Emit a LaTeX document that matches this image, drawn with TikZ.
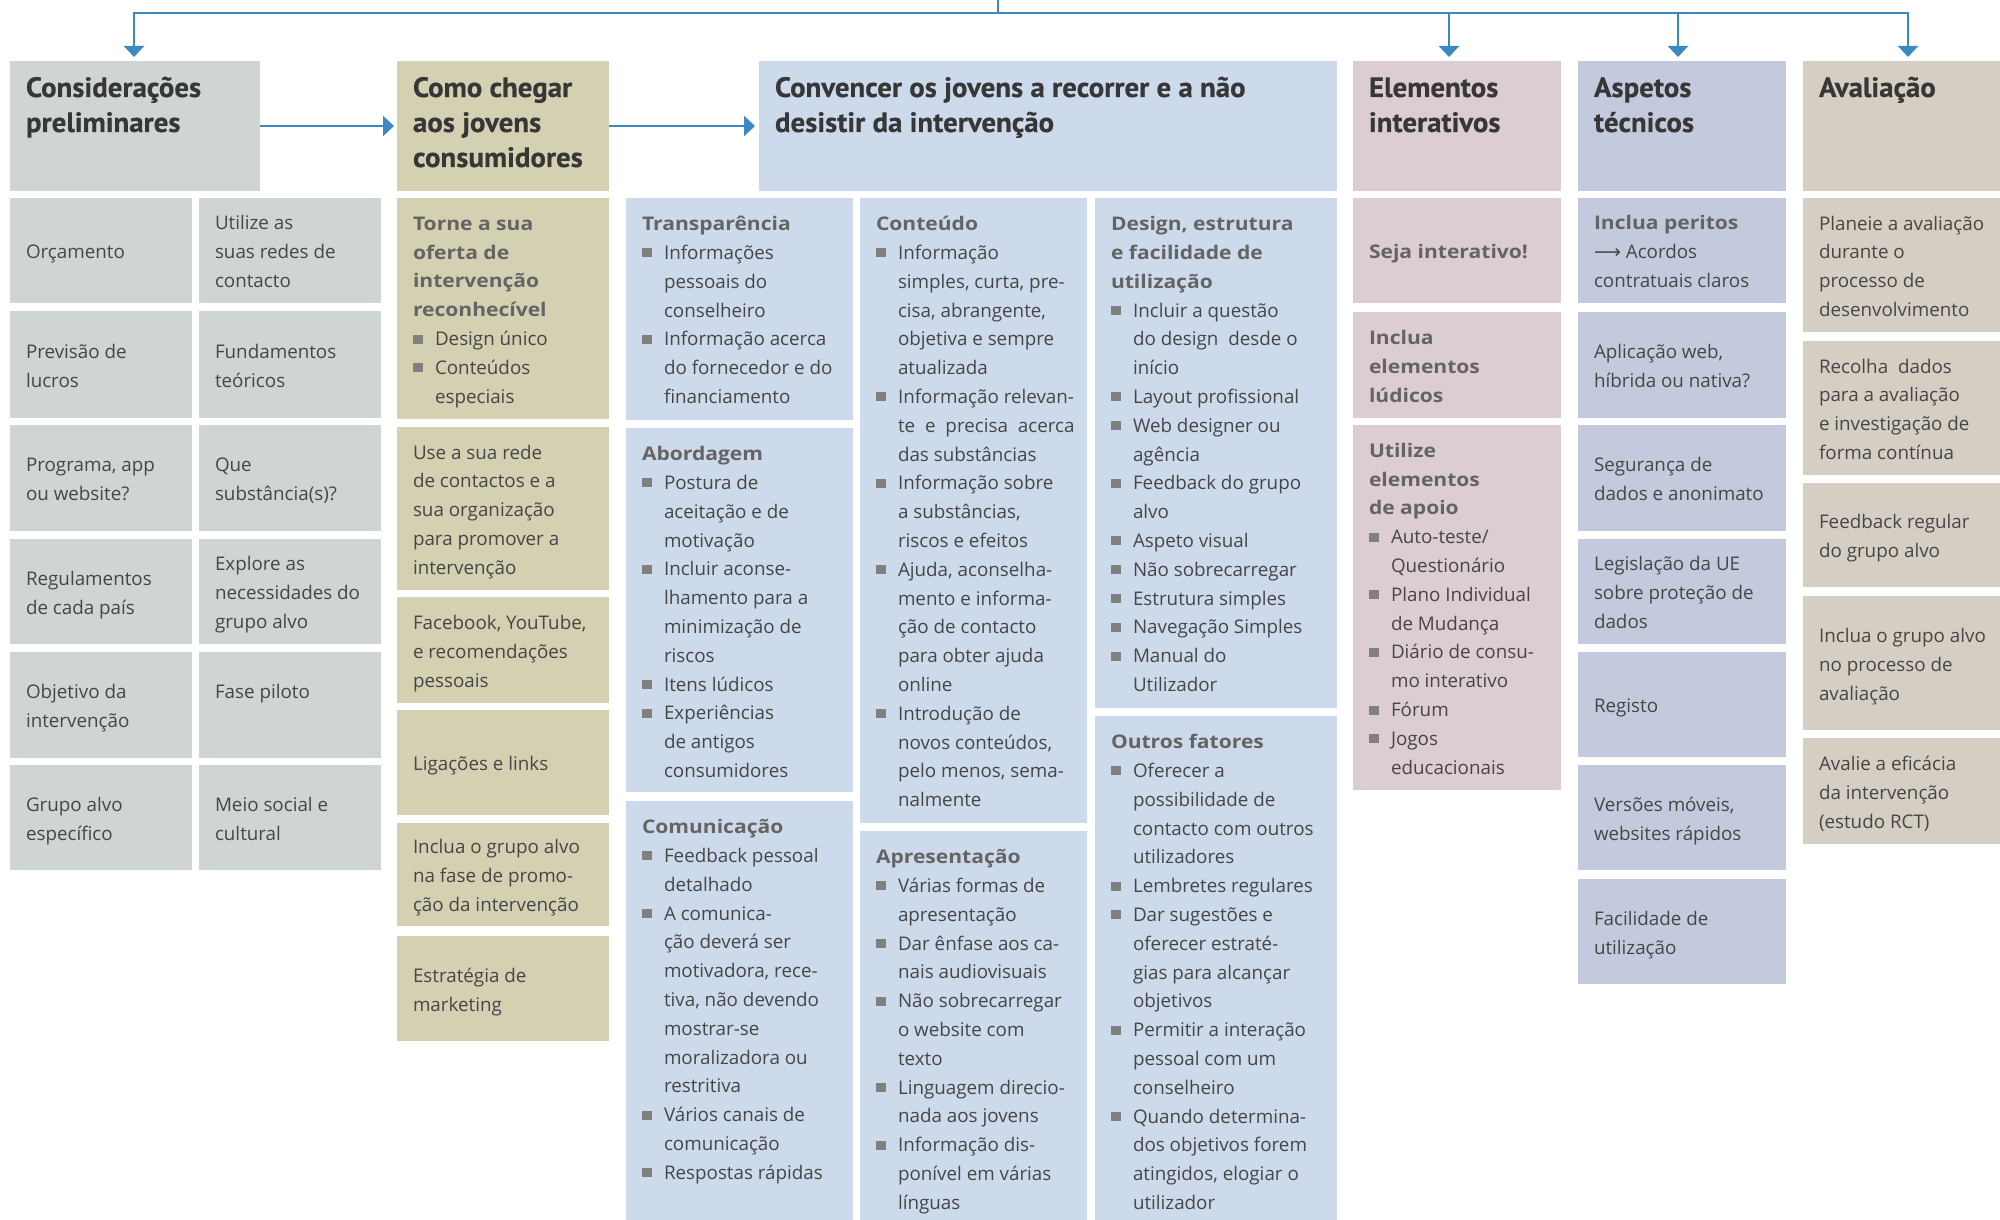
\documentclass[tikz,border=0pt]{standalone}
\usepackage{fontspec}
\setmainfont{Open Sans}
\newfontfamily\hfont[FakeStretch=1.03,BoldFeatures={FakeBold=0.4}]{PT Sans}
\newfontfamily\subfont[FakeStretch=1.12]{Open Sans}
\newfontfamily\symfont{DejaVu Sans}
\usetikzlibrary{arrows.meta,calc}
\definecolor{cg}{RGB}{207,213,211}
\definecolor{ck}{RGB}{212,208,178}
\definecolor{cb}{RGB}{205,218,236}
\definecolor{cp}{RGB}{220,205,211}
\definecolor{cl}{RGB}{196,202,221}
\definecolor{cv}{RGB}{213,206,195}
\definecolor{arrc}{RGB}{58,137,192}
\definecolor{hc}{RGB}{55,55,55}
\definecolor{btxt}{RGB}{70,70,70}
\definecolor{subc}{RGB}{100,100,100}
\definecolor{bulc}{RGB}{128,128,128}
\newcommand\bodyfont{\fontsize{18.8}{28.8}\selectfont}
\newcommand\headfont{\hfont\bfseries\fontsize{28}{35}\selectfont}
\newcommand\bul{\makebox[22pt][l]{\textcolor{bulc}{\rule[2pt]{10pt}{9pt}}}}
\newcommand\ind{\hspace*{22pt}}
\newcommand\subh[1]{{\color{subc}\subfont\bfseries #1}}
\tikzset{
 cell/.style={inner sep=0pt, outer sep=0pt, anchor=north west, draw=none},
 txt/.style={inner sep=0pt, outer sep=0pt, align=left, font=\bodyfont, text=btxt},
 htxt/.style={inner sep=0pt, outer sep=0pt, align=left, font=\headfont, text=hc, anchor=north west},
 ln/.style={draw=arrc, line width=2.5pt},
 arw/.style={ln, -{Triangle[length=11pt,width=20pt]}},
}
\newcommand\mkbox[6]{\node[cell, fill=#6, minimum width={(#4-#2)*1pt}, minimum height={(#5-#3)*1pt}] (#1) at (#2,#3) {};}
\newcommand\ctext[3][0]{\node[txt, anchor=west, xshift=16pt, yshift=#1pt-2.5pt] (#2t) at (#2.west) {\strut#3\strut};}
\newcommand\toptext[2]{\node[txt, anchor=north west, xshift=16pt, yshift=-12.5pt] (#1t) at (#1.north west) {\strut#2\strut};}
\newcommand\headtext[2]{\node[htxt, xshift=16pt, yshift=-11.5pt] (#1t) at (#1.north west) {\strut#2\strut};}
\begin{document}
\begin{tikzpicture}[x=1pt,y=-1pt]
\useasboundingbox (0,0) rectangle (2000,1220);
% headers
\mkbox{h1}{10}{61}{260}{191}{cg}\headtext{h1}{Considerações\\preliminares}
\mkbox{h2}{397}{61}{609}{191}{ck}\headtext{h2}{Como chegar\\aos jovens\\consumidores}
\mkbox{h3}{759}{61}{1337}{191}{cb}\headtext{h3}{Convencer os jovens a recorrer e a não\\desistir da intervenção}
\mkbox{h4}{1353}{61}{1561}{191}{cp}\headtext{h4}{Elementos\\interativos}
\mkbox{h5}{1578}{61}{1786}{191}{cl}\headtext{h5}{Aspetos\\técnicos}
\mkbox{h6}{1803}{61}{2000}{191}{cv}\headtext{h6}{Avaliação}
% connectors
\coordinate (top) at (998,0);
\coordinate (j) at (998,13);
\coordinate (d1) at (134,13);
\coordinate (d2) at (1449,13);
\coordinate (d3) at (1678,13);
\coordinate (d4) at (1908,13);
\draw[ln] (top) -- (j);
\draw[arw, shorten >=4pt] (j) -- (d1) -- (d1 |- h1.north);
\draw[arw, shorten >=4pt] (j) -- (d4) -- (d4 |- h6.north);
\draw[arw, shorten >=4pt] (d2) -- (d2 |- h4.north);
\draw[arw, shorten >=4pt] (d3) -- (d3 |- h5.north);
\draw[arw, shorten >=3pt] (h1.east) -- (h2.west);
\draw[arw, shorten >=4pt] (h2.east) -- (h3.west);
% column 1
\mkbox{a1}{10}{198}{192}{303}{cg}\ctext{a1}{Orçamento}
\mkbox{b1}{199}{198}{381}{303}{cg}\ctext{b1}{Utilize as\\suas redes de\\contacto}
\mkbox{a2}{10}{311}{192}{418}{cg}\ctext{a2}{Previsão de\\lucros}
\mkbox{b2}{199}{311}{381}{418}{cg}\ctext{b2}{Fundamentos\\teóricos}
\mkbox{a3}{10}{425}{192}{531}{cg}\ctext{a3}{Programa, app\\ou website?}
\mkbox{b3}{199}{425}{381}{531}{cg}\ctext{b3}{Que\\substância(s)?}
\mkbox{a4}{10}{539}{192}{644}{cg}\ctext{a4}{Regulamentos\\de cada país}
\mkbox{b4}{199}{539}{381}{644}{cg}\ctext{b4}{Explore as\\necessidades do\\grupo alvo}
\mkbox{a5}{10}{652}{192}{758}{cg}\ctext{a5}{Objetivo da\\intervenção}
\mkbox{b5}{199}{652}{381}{758}{cg}\ctext[14.4]{b5}{Fase piloto}
\mkbox{a6}{10}{765}{192}{870}{cg}\ctext{a6}{Grupo alvo\\específico}
\mkbox{b6}{199}{765}{381}{870}{cg}\ctext{b6}{Meio social e\\cultural}
% column 2
\mkbox{k1}{397}{198}{609}{419}{ck}\ctext{k1}{\subh{Torne a sua}\\\subh{oferta de}\\\subh{intervenção}\\\subh{reconhecível}\\\bul Design único\\\bul Conteúdos\\\ind especiais}
\mkbox{k2}{397}{427}{609}{590}{ck}\ctext{k2}{Use a sua rede\\de contactos e a\\sua organização\\para promover a\\intervenção}
\mkbox{k3}{397}{597}{609}{703}{ck}\ctext{k3}{Facebook, YouTube,\\e recomendações\\pessoais}
\mkbox{k4}{397}{710}{609}{815}{ck}\ctext{k4}{Ligações e links}
\mkbox{k5}{397}{823}{609}{926}{ck}\ctext{k5}{Inclua o grupo alvo\\na fase de promo-\\ção da intervenção}
\mkbox{k6}{397}{936}{609}{1041}{ck}\ctext{k6}{Estratégia de\\marketing}
% column 3
\mkbox{t1}{626}{198}{853}{420}{cb}\toptext{t1}{\subh{Transparência}\\\bul Informações\\\ind pessoais do\\\ind conselheiro\\\bul Informação acerca\\\ind do fornecedor e do\\\ind financiamento}
\mkbox{t2}{626}{428}{853}{792}{cb}\toptext{t2}{\subh{Abordagem}\\\bul Postura de\\\ind aceitação e de\\\ind motivação\\\bul Incluir aconse-\\\ind lhamento para a\\\ind minimização de\\\ind riscos\\\bul Itens lúdicos\\\bul Experiências\\\ind de antigos\\\ind consumidores}
\mkbox{t3}{626}{801}{853}{1220}{cb}\toptext{t3}{\subh{Comunicação}\\\bul Feedback pessoal\\\ind detalhado\\\bul A comunica-\\\ind ção deverá ser\\\ind motivadora, rece-\\\ind tiva, não devendo\\\ind mostrar-se\\\ind moralizadora ou\\\ind restritiva\\\bul Vários canais de\\\ind comunicação\\\bul Respostas rápidas}
\mkbox{u1}{860}{198}{1087}{823}{cb}\toptext{u1}{\subh{Conteúdo}\\\bul Informação\\\ind simples, curta, pre-\\\ind cisa, abrangente,\\\ind objetiva e sempre\\\ind atualizada\\\bul Informação relevan-\\\ind te\hspace{5pt} e\hspace{5pt} precisa\hspace{5pt} acerca\\\ind das substâncias\\\bul Informação sobre\\\ind a substâncias,\\\ind riscos e efeitos\\\bul Ajuda, aconselha-\\\ind mento e informa-\\\ind ção de contacto\\\ind para obter ajuda\\\ind online\\\bul Introdução de\\\ind novos conteúdos,\\\ind pelo menos, sema-\\\ind nalmente}
\mkbox{u2}{860}{831}{1087}{1220}{cb}\toptext{u2}{\subh{Apresentação}\\\bul Várias formas de\\\ind apresentação\\\bul Dar ênfase aos ca-\\\ind nais audiovisuais\\\bul Não sobrecarregar\\\ind o website com\\\ind texto\\\bul Linguagem direcio-\\\ind nada aos jovens\\\bul Informação dis-\\\ind ponível em várias\\\ind línguas}
\mkbox{w1}{1095}{198}{1337}{708}{cb}\toptext{w1}{\subh{Design, estrutura}\\\subh{e facilidade de}\\\subh{utilização}\\\bul Incluir a questão\\\ind do design\hspace{5pt} desde o\\\ind início\\\bul Layout profissional\\\bul Web designer ou\\\ind agência\\\bul Feedback do grupo\\\ind alvo\\\bul Aspeto visual\\\bul Não sobrecarregar\\\bul Estrutura simples\\\bul Navegação Simples\\\bul Manual do\\\ind Utilizador}
\mkbox{w2}{1095}{716}{1337}{1220}{cb}\toptext{w2}{\subh{Outros fatores}\\\bul Oferecer a\\\ind possibilidade de\\\ind contacto com outros\\\ind utilizadores\\\bul Lembretes regulares\\\bul Dar sugestões e\\\ind oferecer estraté-\\\ind gias para alcançar\\\ind objetivos\\\bul Permitir a interação\\\ind pessoal com um\\\ind conselheiro\\\bul Quando determina-\\\ind dos objetivos forem\\\ind atingidos, elogiar o\\\ind utilizador}
% column 4
\mkbox{e1}{1353}{198}{1561}{303}{cp}\ctext{e1}{\subh{Seja interativo!}}
\mkbox{e2}{1353}{312}{1561}{418}{cp}\ctext{e2}{\subh{Inclua}\\\subh{elementos}\\\subh{lúdicos}}
\mkbox{e3}{1353}{425}{1561}{790}{cp}\ctext{e3}{\subh{Utilize}\\\subh{elementos}\\\subh{de apoio}\\\bul Auto-teste/\\\ind Questionário\\\bul Plano Individual\\\ind de Mudança\\\bul Diário de consu-\\\ind mo interativo\\\bul Fórum\\\bul Jogos\\\ind educacionais}
% column 5
\mkbox{s1}{1578}{198}{1786}{303}{cl}\ctext{s1}{\subh{Inclua peritos}\\{\symfont ⟶} Acordos\\contratuais claros}
\mkbox{s2}{1578}{312}{1786}{418}{cl}\ctext{s2}{Aplicação web,\\híbrida ou nativa?}
\mkbox{s3}{1578}{425}{1786}{531}{cl}\ctext{s3}{Segurança de\\dados e anonimato}
\mkbox{s4}{1578}{539}{1786}{644}{cl}\ctext{s4}{Legislação da UE\\sobre proteção de\\dados}
\mkbox{s5}{1578}{652}{1786}{757}{cl}\ctext{s5}{Registo}
\mkbox{s6}{1578}{765}{1786}{870}{cl}\ctext{s6}{Versões móveis,\\websites rápidos}
\mkbox{s7}{1578}{879}{1786}{984}{cl}\ctext{s7}{Facilidade de\\utilização}
% column 6
\mkbox{v1}{1803}{198}{2000}{332}{cv}\ctext{v1}{Planeie a avaliação\\durante o\\processo de\\desenvolvimento}
\mkbox{v2}{1803}{341}{2000}{475}{cv}\ctext{v2}{Recolha\hspace{5pt} dados\\para a avaliação\\e investigação de\\forma contínua}
\mkbox{v3}{1803}{483}{2000}{587}{cv}\ctext{v3}{Feedback regular\\do grupo alvo}
\mkbox{v4}{1803}{596}{2000}{730}{cv}\ctext{v4}{Inclua o grupo alvo\\no processo de\\avaliação}
\mkbox{v5}{1803}{738}{2000}{844}{cv}\ctext{v5}{Avalie a eficácia\\da intervenção\\(estudo RCT)}
\end{tikzpicture}
\end{document}
